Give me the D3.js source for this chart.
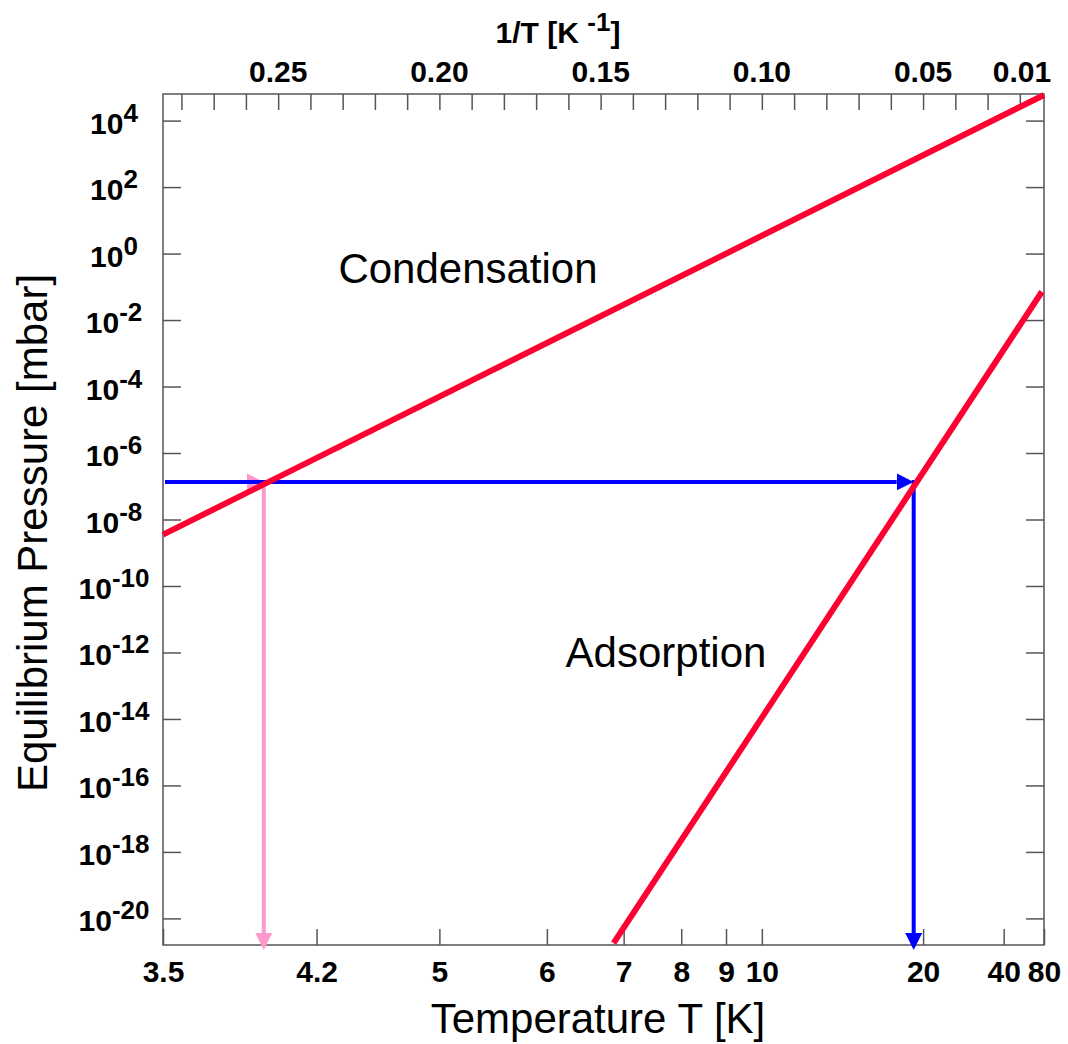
<!DOCTYPE html>
<html>
<head>
<meta charset="utf-8">
<script src="https://cdn.jsdelivr.net/npm/d3@7"></script>
<style>
  body { margin: 0; background: #fff; }
  svg { display: block; }
  text { font-family: "Liberation Sans", Arial, sans-serif; fill: #000; }
</style>
</head>
<body>
<svg width="1068" height="1044"></svg>
<script>
const width = 1068,
  height = 1044;
const margin = { top: 94, right: 24, bottom: 99, left: 163 };

// Temperature labels on the bottom axis (K)
const tempLabels = [3.5, 4.2, 5, 6, 7, 8, 9, 10, 20, 40, 80];
// 1/T labels on the top axis (K^-1)
const invLabels = [0.25, 0.2, 0.15, 0.1, 0.05, 0.01];
const invLabelText = ['0.25', '0.20', '0.15', '0.10', '0.05', '0.01'];
// Pressure decades shown on the y axis (mbar)
const pressureExps = [4, 2, 0, -2, -4, -6, -8, -10, -12, -14, -16, -18, -20];

// Vapour pressure lines (T in K, P in mbar)
const condensationT = [3.5, 80];
const condensationP = [3.5e-9, 5.9e4];
const adsorptionT = [6.85, 76];
const adsorptionP = [1.8e-21, 7.1e-2];

// Working pressure and the two read-off temperatures
const workP = 1.35e-7;
const condensT = 3.93;
const adsorbT = 18.9;

const svg = d3.select('svg');
const x0 = margin.left,
  x1 = width - margin.right,
  y0 = margin.top,
  y1 = height - margin.bottom;

// x is linear in 1/T, so the lines come out straight
const x = d3.scaleLinear().domain([1 / 3.5, 1 / 80]).range([x0, x1]);
const y = d3.scaleLog().domain([Math.pow(10, -20.8), Math.pow(10, 4.8)]).range([y1, y0]);

const axisColor = '#555';

// frame
svg
  .append('rect')
  .attr('x', x0)
  .attr('y', y0)
  .attr('width', x1 - x0)
  .attr('height', y1 - y0)
  .attr('fill', 'none')
  .attr('stroke', axisColor)
  .attr('stroke-width', 1.5);

// bottom axis (temperature)
const gBottom = svg
  .append('g')
  .attr('transform', `translate(0,${y1})`)
  .call(
    d3
      .axisBottom(x)
      .tickValues(tempLabels.map((t) => 1 / t))
      .tickSize(-16)
      .tickFormat((d, i) => tempLabels[i])
  );
gBottom.select('.domain').remove();
gBottom.selectAll('line').attr('stroke', axisColor).attr('stroke-width', 1.5);
gBottom
  .selectAll('text')
  .attr('y', 37)
  .attr('dy', null)
  .style('font-size', '30px')
  .style('font-weight', 'bold');

// top axis (1/T)
const gTop = svg
  .append('g')
  .attr('transform', `translate(0,${y0})`)
  .call(d3.axisTop(x).tickValues(x.ticks(30)).tickSize(-16).tickFormat(''));
gTop.select('.domain').remove();
gTop.selectAll('line').attr('stroke', axisColor).attr('stroke-width', 1.5);

svg
  .append('g')
  .selectAll('text')
  .data(invLabels)
  .join('text')
  .attr('x', (d) => Math.min(x(d), x1 - 22))
  .attr('y', y0 - 12)
  .attr('text-anchor', 'middle')
  .style('font-size', '30px')
  .style('font-weight', 'bold')
  .text((d, i) => invLabelText[i]);

// y axes, ticks on both sides pointing inward
const pTicks = pressureExps.map((e) => Math.pow(10, e));
const gLeft = svg
  .append('g')
  .attr('transform', `translate(${x0},0)`)
  .call(d3.axisLeft(y).tickValues(pTicks).tickSize(-18).tickFormat(''));
const gRight = svg
  .append('g')
  .attr('transform', `translate(${x1},0)`)
  .call(d3.axisRight(y).tickValues(pTicks).tickSize(-18).tickFormat(''));
[gLeft, gRight].forEach((g) => {
  g.select('.domain').remove();
  g.selectAll('line').attr('stroke', axisColor).attr('stroke-width', 1.5);
});

const yLabels = svg
  .append('g')
  .selectAll('text')
  .data(pressureExps)
  .join('text')
  .attr('x', 114)
  .attr('y', (d) => y(Math.pow(10, d)) + 13)
  .attr('text-anchor', 'middle')
  .style('font-size', '30px')
  .style('font-weight', 'bold');
yLabels.append('tspan').text('10');
yLabels
  .append('tspan')
  .attr('dy', -12)
  .style('font-size', '26px')
  .text((d) => d);

// axis titles
svg
  .append('text')
  .attr('x', 598)
  .attr('y', 1033)
  .attr('text-anchor', 'middle')
  .style('font-size', '42px')
  .text('Temperature T [K]');

svg
  .append('text')
  .attr('transform', 'translate(47,533) rotate(-90)')
  .attr('text-anchor', 'middle')
  .style('font-size', '42px')
  .text('Equilibrium Pressure [mbar]');

const topTitle = svg
  .append('text')
  .attr('x', 558)
  .attr('y', 43)
  .attr('text-anchor', 'middle')
  .style('font-size', '30px')
  .style('font-weight', 'bold')
  .style('white-space', 'pre');
topTitle.append('tspan').text('1/T [K ');
topTitle.append('tspan').attr('dy', -12).style('font-size', '26px').text('-1');
topTitle.append('tspan').attr('dy', 12).text(']');

// arrowheads
const defs = svg.append('defs');
[
  ['head-blue', '#0000ff'],
  ['head-pink', '#ff99cc'],
].forEach(([id, color]) => {
  defs
    .append('marker')
    .attr('id', id)
    .attr('markerUnits', 'userSpaceOnUse')
    .attr('markerWidth', 17)
    .attr('markerHeight', 17)
    .attr('viewBox', '0 0 17 17')
    .attr('refX', 0)
    .attr('refY', 8.5)
    .attr('orient', 'auto')
    .append('path')
    .attr('d', 'M0,0L17,8.5L0,17Z')
    .attr('fill', color);
});

const yWork = y(workP);
const head = 17;

// pink read-off arrows (condensation)
svg
  .append('line')
  .attr('x1', x0 + 2)
  .attr('y1', yWork)
  .attr('x2', x(1 / condensT) - head)
  .attr('y2', yWork)
  .attr('stroke', '#ff99cc')
  .attr('stroke-width', 4)
  .attr('marker-end', 'url(#head-pink)');
svg
  .append('line')
  .attr('x1', x(1 / condensT))
  .attr('y1', yWork)
  .attr('x2', x(1 / condensT))
  .attr('y2', y1 + 5 - head)
  .attr('stroke', '#ff99cc')
  .attr('stroke-width', 4)
  .attr('marker-end', 'url(#head-pink)');

// blue read-off arrows (adsorption)
svg
  .append('line')
  .attr('x1', x0 + 2)
  .attr('y1', yWork)
  .attr('x2', x(1 / adsorbT) - head)
  .attr('y2', yWork)
  .attr('stroke', '#0000ff')
  .attr('stroke-width', 4)
  .attr('marker-end', 'url(#head-blue)');
svg
  .append('line')
  .attr('x1', x(1 / adsorbT))
  .attr('y1', yWork - 2)
  .attr('x2', x(1 / adsorbT))
  .attr('y2', y1 + 5 - head)
  .attr('stroke', '#0000ff')
  .attr('stroke-width', 4)
  .attr('marker-end', 'url(#head-blue)');

// vapour pressure lines
const line = d3
  .line()
  .x((d) => x(1 / d[0]))
  .y((d) => y(d[1]));

[
  [condensationT, condensationP],
  [adsorptionT, adsorptionP],
].forEach(([ts, ps]) => {
  svg
    .append('path')
    .datum(d3.zip(ts, ps))
    .attr('d', line)
    .attr('fill', 'none')
    .attr('stroke', '#ff0033')
    .attr('stroke-width', 6);
});

// region labels
svg
  .append('text')
  .attr('x', 468)
  .attr('y', 283)
  .attr('text-anchor', 'middle')
  .style('font-size', '42px')
  .text('Condensation');

svg
  .append('text')
  .attr('x', 666)
  .attr('y', 667)
  .attr('text-anchor', 'middle')
  .style('font-size', '42px')
  .text('Adsorption');
</script>
</body>
</html>
